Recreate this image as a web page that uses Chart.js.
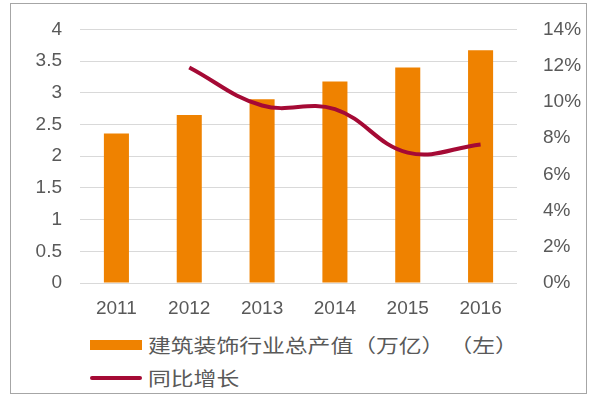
<!DOCTYPE html>
<html lang="zh">
<head>
    <meta charset="UTF-8">
    <title>建筑装饰行业总产值</title>
    <style>
        body { margin: 0; background: #fff; font-family: "Liberation Sans", "Noto Sans CJK SC", sans-serif; }
        #frame {
            position: absolute; left: 10px; top: 3px; width: 577px; height: 391px;
            border: 1px solid #a6a6a6; box-sizing: border-box;
        }
        #wrap { position: absolute; left: 0; top: 0; width: 600px; height: 315px; }
        .legend { position: absolute; left: 90px; color: #595959; font-size: 19px; line-height: 24px;
                  font-family: "Noto Sans CJK SC", sans-serif; }
        .legend span.mark { position: absolute; left: 0; }
        .legend span.txt { position: absolute; left: 58px; top: 0; white-space: pre;
                           transform: scaleX(1.2); transform-origin: left center; }
    </style>
</head>
<body>
    <div id="frame"></div>
    <div id="wrap"><canvas id="c" width="600" height="315"></canvas></div>
    <div class="legend" style="top:333px">
        <span class="mark" style="top:7px;width:52px;height:10px;background:#EF8200"></span>
        <span class="txt">建筑装饰行业总产值（万亿） （左）</span>
    </div>
    <div class="legend" style="top:366px">
        <span class="mark" style="top:10px;width:52px;height:4px;border-radius:2px;background:#A50A35"></span>
        <span class="txt">同比增长</span>
    </div>

    <script src="https://cdn.jsdelivr.net/npm/chart.js"></script>
    <script>
        var years = ['2011', '2012', '2013', '2014', '2015', '2016'];
        var output = [2.36, 2.65, 2.90, 3.18, 3.40, 3.67];   // 万亿
        var growth = [null, 11.9, 9.8, 9.6, 7.2, 7.65];      // %

        var grey = '#595959';
        var tickFont = { family: '"Liberation Sans", Arial, sans-serif', size: 19 };

        new Chart(document.getElementById('c'), {
            data: {
                labels: years,
                datasets: [{
                    type: 'line',
                    label: '同比增长',
                    data: growth,
                    yAxisID: 'y1',
                    borderColor: '#A50A35',
                    borderWidth: 4,
                    pointRadius: 0,
                    tension: 0.4,
                    fill: false,
                    spanGaps: true
                }, {
                    type: 'bar',
                    label: '建筑装饰行业总产值（万亿）（左）',
                    data: output,
                    yAxisID: 'y',
                    backgroundColor: '#EF8200',
                    categoryPercentage: 0.8,
                    barPercentage: 0.43
                }]
            },
            options: {
                responsive: false,
                animation: false,
                layout: { padding: { left: 10, right: 12, top: 29, bottom: 0 } },
                plugins: { legend: { display: false }, tooltip: { enabled: false } },
                scales: {
                    x: {
                        grid: { display: false },
                        border: { display: false },
                        ticks: { color: grey, font: tickFont, padding: 6 },
                        afterFit: function (s) { s.height = 32; }
                    },
                    y: {
                        position: 'left',
                        min: 0, max: 4,
                        ticks: { stepSize: 0.5, color: grey, font: tickFont, padding: 18,
                                 callback: function (v) { return String(v); } },
                        grid: { color: '#d9d9d9', lineWidth: 1, drawTicks: false },
                        border: { display: false },
                        afterFit: function (s) { s.width = 70; }
                    },
                    y1: {
                        position: 'right',
                        min: 0, max: 14,
                        ticks: { stepSize: 2, color: grey, font: tickFont, padding: 18,
                                 callback: function (v) { return v + '%'; } },
                        grid: { display: false },
                        border: { display: false },
                        afterFit: function (s) { s.width = 71; }
                    }
                }
            }
        });
    </script>
</body>
</html>
